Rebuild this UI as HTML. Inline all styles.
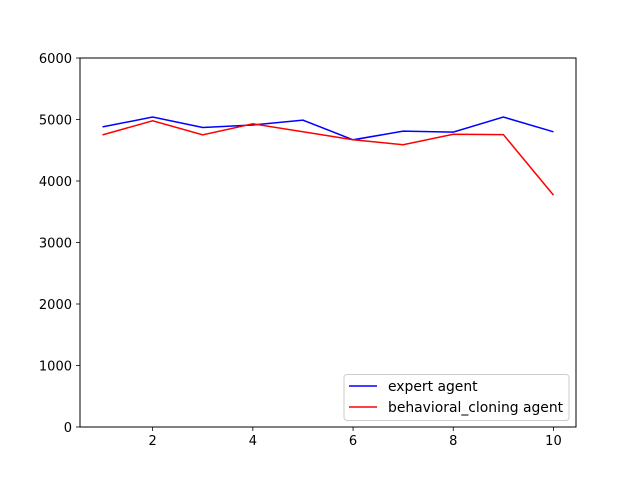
<!DOCTYPE html>
<html><head><meta charset="utf-8"><style>body{margin:0;background:#fff}svg{display:block;font-family:"DejaVu Sans","Liberation Sans",sans-serif}</style></head>
<body>
<svg id="chart" width="640" height="480">
<rect x="0" y="0" width="640" height="480" fill="#fff"/>
<g id="plot"></g>
</svg>
<script>
const episodes=[1,2,3,4,5,6,7,8,9,10];
const expertReturns=[4880,5040,4870,4910,4990,4670,4810,4795,5040,4800];
const cloningReturns=[4750,4980,4750,4930,4800,4670,4590,4760,4755,3770];
const xTicks=[2,4,6,8,10];
const yTicks=[0,1000,2000,3000,4000,5000,6000];
const L=80,R=576,T=58,B=427,xmin=0.55,xmax=10.45,ymin=0,ymax=6000;
const sx=v=>L+(v-xmin)/(xmax-xmin)*(R-L);
const sy=v=>B-(v-ymin)/(ymax-ymin)*(B-T);
const g=document.getElementById('plot');
const NS='http://www.w3.org/2000/svg';
function mk(t,a){const e=document.createElementNS(NS,t);for(const k in a)e.setAttribute(k,a[k]);g.appendChild(e);return e;}
xTicks.forEach(v=>{
 const t=mk('line',{x1:sx(v),x2:sx(v),y1:B,y2:B+4,stroke:'#000','stroke-width':0.8});
 
 
 const l=mk('text',{x:sx(v),y:B+18,'text-anchor':'middle','font-size':13});l.textContent=v;
 
 
});
yTicks.forEach(v=>{
 const t=mk('line',{x1:L-4,x2:L,y1:sy(v),y2:sy(v),stroke:'#000','stroke-width':0.8});
 
 
 const l=mk('text',{x:L-8,y:sy(v)+5,'text-anchor':'end','font-size':13});l.textContent=v;
 
 
});
function series(vals,color,name){
 const p=mk('polyline',{points:episodes.map((x,i)=>sx(x)+','+sy(vals[i])).join(' '),fill:'none',stroke:color,'stroke-width':1.5});
 
 
}
series(expertReturns,'#0000ff','expert-agent-line');
series(cloningReturns,'#ff0000','behavioral-cloning-line');
const fr=mk('rect',{x:L,y:T,width:R-L,height:B-T,fill:'none',stroke:'#000','stroke-width':1});


const lg=mk('rect',{x:344,y:374.5,width:225,height:46,fill:'#fff','fill-opacity':0.8,stroke:'#ccc',rx:3});


[['expert agent','#0000ff',386],['behavioral_cloning agent','#ff0000',407]].forEach(([txt,c,y])=>{
 const ln=mk('line',{x1:349,x2:377,y1:y,y2:y,stroke:c,'stroke-width':1.5});
 
 
 const t=mk('text',{x:388,y:y+5,'font-size':13.9});t.textContent=txt;
 
 
});
</script>
</body></html>
